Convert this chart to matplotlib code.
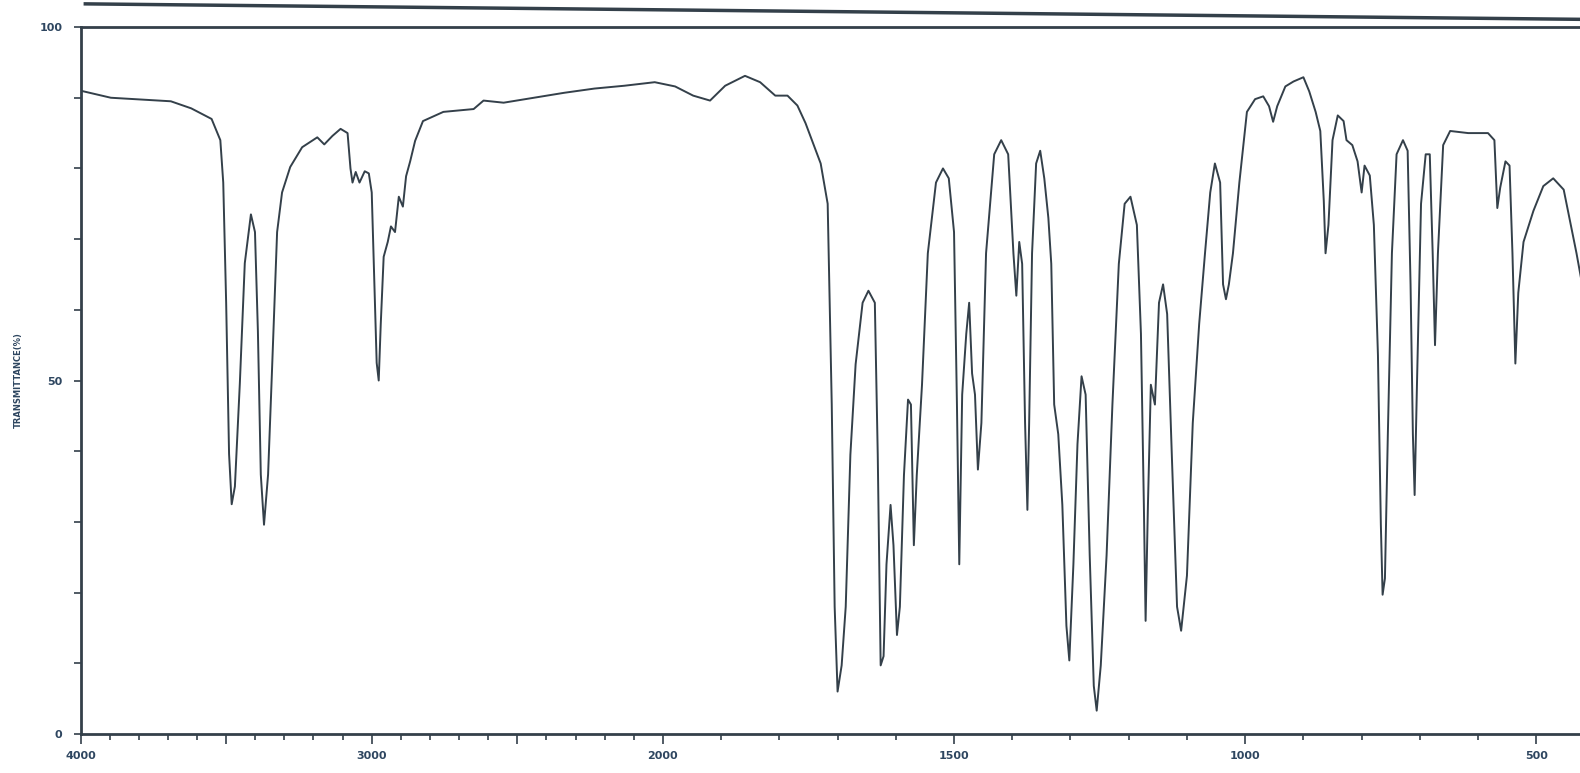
import matplotlib.pyplot as plt
import numpy as np

# IR spectrum, wavenumber (cm-1) vs transmittance (%)
wavenumber = [4000, 3896, 3690, 3620, 3550, 3520, 3510, 3500, 3490, 3481, 3470, 3453, 3436, 3415,
              3401, 3391, 3381, 3370, 3356, 3343, 3325, 3308, 3280, 3239, 3187, 3163, 3135, 3107,
              3083, 3073, 3066, 3055, 3042, 3024, 3010, 3000, 2990, 2983, 2976, 2969, 2959, 2945,
              2934, 2920, 2907, 2893, 2882, 2868, 2851, 2824, 2754, 2650, 2616, 2547, 2443, 2339,
              2235, 2132, 2028, 1979, 1948, 1919, 1893, 1859, 1833, 1807, 1786, 1769, 1755, 1729,
              1717, 1710, 1705, 1700, 1693, 1686, 1678, 1669, 1657, 1647, 1636, 1631, 1626, 1621,
              1616, 1609, 1604, 1598, 1593, 1586, 1579, 1574, 1569, 1564, 1555, 1545, 1531, 1519,
              1509, 1500, 1495, 1491, 1486, 1479, 1474, 1469, 1464, 1459, 1453, 1445, 1431, 1419,
              1407, 1398, 1393, 1388, 1383, 1378, 1374, 1371, 1366, 1359, 1352, 1345, 1338, 1333,
              1328, 1321, 1314, 1307, 1302, 1295, 1288, 1281, 1274, 1267, 1260, 1255, 1248, 1238,
              1228, 1217, 1207, 1197, 1186, 1179, 1174, 1171, 1167, 1162, 1155, 1148, 1141, 1134,
              1126, 1117, 1110, 1100, 1090, 1079, 1069, 1060, 1052, 1043, 1038, 1033, 1028, 1021,
              1010, 997, 983, 969, 959, 952, 945, 931, 917, 900, 890, 879, 871, 865, 862, 857,
              850, 841, 831, 826, 816, 807, 800, 795, 786, 779, 772, 767, 764, 760, 755, 748,
              740, 729, 721, 716, 712, 709, 705, 698, 690, 683, 678, 674, 669, 660, 648, 617,
              583, 572, 567, 562, 553, 546, 541, 536, 531, 522, 505, 488, 471, 453, 431, 420]
transmittance = [91, 90, 89.5, 88.5, 87, 84, 78, 61, 39.6, 32.5, 35, 49.6, 66.6, 73.5,
                 71, 57, 36.7, 29.6, 36.7, 50.9, 71, 76.6, 80.2, 83, 84.4, 83.4, 84.6, 85.6,
                 85, 80, 78, 79.5, 78, 79.6, 79.3, 76.6, 62.5, 52.5, 50, 58, 67.5, 69.6,
                 71.8, 71, 76, 74.6, 78.9, 81, 83.9, 86.7, 88, 88.4, 89.6, 89.3, 90, 90.7,
                 91.3, 91.7, 92.2, 91.6, 90.3, 89.6, 91.7, 93.1, 92.2, 90.3, 90.3, 88.9, 86.4, 80.7,
                 75, 46.6, 18, 6, 9.7, 18, 39.5, 52.3, 61, 62.7, 61, 39.5, 9.7, 11,
                 24, 32.4, 26.7, 14, 18, 36.6, 47.3, 46.6, 26.7, 36.6, 49.4, 68, 78, 80,
                 78.6, 71, 46.6, 24, 48, 56.6, 61, 51, 48, 37.4, 44, 68, 82, 84,
                 82, 68, 62, 69.6, 66.5, 44, 31.7, 44, 68, 80.7, 82.5, 78.6, 73, 66.5,
                 46.6, 42.4, 32.4, 15.3, 10.4, 24, 41, 50.6, 48, 25.3, 6.8, 3.3, 9.7, 25.3,
                 46.6, 66.5, 75, 76, 72, 56.6, 32.4, 16, 32.4, 49.4, 46.6, 61, 63.6, 59.4,
                 39.5, 18, 14.6, 22.4, 44, 58, 68, 76.6, 80.7, 78, 63.6, 61.5, 63.6, 68,
                 78, 88, 89.8, 90.2, 88.8, 86.6, 88.8, 91.6, 92.3, 92.9, 90.9, 88, 85.3, 75.4, 68, 72,
                 84, 87.5, 86.7, 84, 83.3, 81, 76.6, 80.4, 79, 72, 53.6, 29.6, 19.7, 22, 42.4, 68,
                 82, 84, 82.5, 63.6, 42.4, 33.8, 49.4, 75, 82, 82, 68, 55, 68, 83.3, 85.3, 85,
                 85, 84, 74.4, 77.3, 81, 80.4, 68, 52.4, 62.4, 69.6, 74, 77.5, 78.6, 77, 68, 63]

major_ticks = [4000, 3500, 3000, 2500, 2000, 1500, 1000, 500]
x_labels = {4000: '4000', 3000: '3000', 2000: '2000', 1500: '1500', 1000: '1000', 500: '500'}
y_labels = {0: '0', 50: '50', 100: '100'}


# chart paper: 4000-2000 at half the scale of 2000-400
def forward(w):
    w = np.asarray(w, dtype=float)
    return np.where(w > 2000, 2000 + (w - 2000) / 2, w)


def inverse(p):
    p = np.asarray(p, dtype=float)
    return np.where(p > 2000, 2000 + (p - 2000) * 2, p)


ink = '#34404a'
label_color = '#2e4660'

fig = plt.figure(figsize=(15.8, 7.73), dpi=100)
ax = fig.add_axes([0.051, 0.0505, 0.949, 0.9145])
ax.set_xscale('function', functions=(forward, inverse))
ax.plot(wavenumber, transmittance, color=ink, lw=1.4)

ax.set_xlim(4000, 425)
ax.set_ylim(0, 100)

ax.set_xticks(major_ticks)
ax.set_xticklabels([x_labels.get(t, '') for t in major_ticks])
ax.set_xticks(np.arange(500, 4000, 100), minor=True)
ax.set_yticks(np.arange(0, 101, 10))
ax.set_yticklabels([y_labels.get(t, '') for t in range(0, 101, 10)])

ax.tick_params(axis='x', which='major', length=7, width=1.2, color=ink, pad=5,
               labelsize=8, labelcolor=label_color)
ax.tick_params(axis='x', which='minor', length=4, width=1.2, color=ink)
ax.tick_params(axis='y', which='major', length=5, width=1.2, color=ink, pad=8,
               labelsize=8, labelcolor=label_color)
for lbl in ax.get_xticklabels() + ax.get_yticklabels():
    lbl.set_fontweight('bold')

for side in ['left', 'bottom', 'top']:
    ax.spines[side].set_color(ink)
    ax.spines[side].set_linewidth(2)
ax.spines['right'].set_visible(False)

ax.set_ylabel('TRANSMITTANCE(%)', fontsize=6, fontweight='bold', color=label_color, labelpad=12)

# upper frame edge of the chart paper
fig.add_artist(plt.Line2D([0.054, 1.0], [0.995, 0.975], color=ink, lw=2.5))

fig.savefig('out.png', dpi=100, facecolor='white')
